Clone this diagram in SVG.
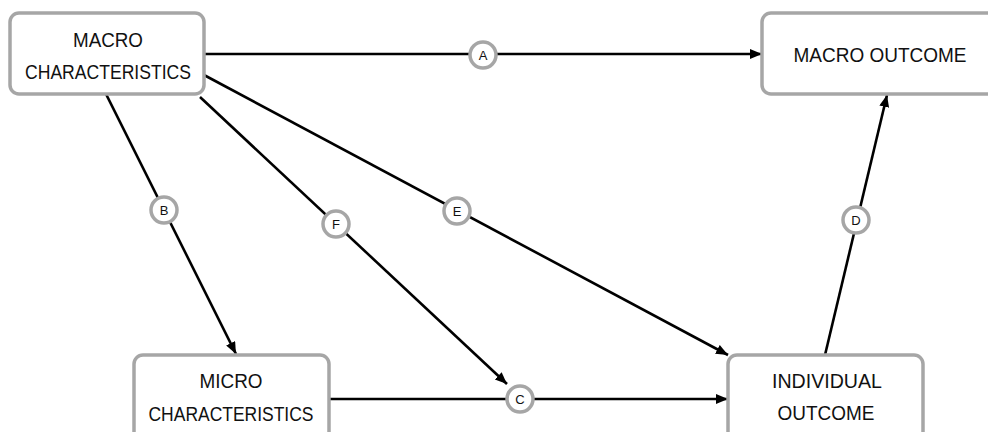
<svg xmlns="http://www.w3.org/2000/svg" width="988" height="432" viewBox="0 0 988 432">
<style>
.box{fill:#fff;stroke:#a6a6a6;stroke-width:3.5}
.t{font-family:"Liberation Sans",Arial,sans-serif;font-size:21px;fill:#111;text-anchor:middle}
.edge{stroke:#000;stroke-width:2.6;fill:none;marker-end:url(#ah)}
.lab circle{fill:#fff;stroke:#a6a6a6;stroke-width:3.5}
.lab text{font-family:"Liberation Sans",Arial,sans-serif;font-size:13px;fill:#111;text-anchor:middle}
</style>
<defs>
<marker id="ah" markerUnits="userSpaceOnUse" markerWidth="13" markerHeight="11" refX="12" refY="5" orient="auto">
<path d="M0,0 L12,5 L0,10 z" fill="#000"/>
</marker>
</defs>
<rect width="988" height="432" fill="#fff"/>
<g id="connectors">
<line class="edge" x1="204" y1="54" x2="762" y2="54"/>
<line class="edge" x1="106" y1="94" x2="236" y2="354"/>
<line class="edge" x1="200" y1="97" x2="507" y2="384"/>
<line class="edge" x1="204" y1="75" x2="728" y2="355"/>
<line class="edge" x1="825" y1="355" x2="887" y2="95"/>
<line class="edge" x1="329" y1="399" x2="728" y2="399"/>
<g class="lab" id="label-A"><circle cx="483" cy="55" r="13"/><text x="483" y="59.5">A</text></g>
<g class="lab" id="label-B"><circle cx="164" cy="210" r="13"/><text x="164" y="214.5">B</text></g>
<g class="lab" id="label-F"><circle cx="336" cy="224" r="13"/><text x="336" y="228.5">F</text></g>
<g class="lab" id="label-E"><circle cx="457" cy="211" r="13"/><text x="457" y="215.5">E</text></g>
<g class="lab" id="label-D"><circle cx="856" cy="220" r="13"/><text x="856" y="224.5">D</text></g>
<g class="lab" id="label-C"><circle cx="520" cy="399" r="13"/><text x="520" y="403.5">C</text></g>
</g>
<g id="macro-characteristics">
<rect class="box" x="10" y="13" width="194" height="81" rx="9"/>
<text class="t" x="108" y="47" textLength="70" lengthAdjust="spacingAndGlyphs">MACRO</text>
<text class="t" x="108" y="79" textLength="166" lengthAdjust="spacingAndGlyphs">CHARACTERISTICS</text>
</g>
<g id="macro-outcome">
<rect class="box" x="762" y="13" width="236" height="81" rx="9"/>
<text class="t" x="880" y="62" textLength="173" lengthAdjust="spacingAndGlyphs">MACRO OUTCOME</text>
</g>
<g id="micro-characteristics">
<rect class="box" x="134" y="355" width="195" height="90" rx="9"/>
<text class="t" x="231" y="388" textLength="63" lengthAdjust="spacingAndGlyphs">MICRO</text>
<text class="t" x="231" y="421" textLength="165" lengthAdjust="spacingAndGlyphs">CHARACTERISTICS</text>
</g>
<g id="individual-outcome">
<rect class="box" x="728" y="355" width="195" height="90" rx="9"/>
<text class="t" x="827" y="388" textLength="110" lengthAdjust="spacingAndGlyphs">INDIVIDUAL</text>
<text class="t" x="826" y="420" textLength="97" lengthAdjust="spacingAndGlyphs">OUTCOME</text>
</g>
</svg>
